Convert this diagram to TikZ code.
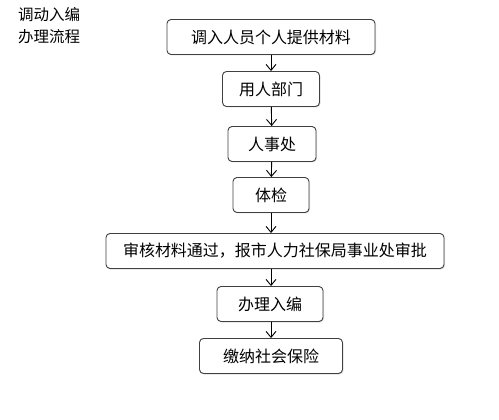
\documentclass[tikz,border=0pt]{standalone}
\usepackage{fontspec}
\setmainfont{Noto Sans CJK SC}
\usetikzlibrary{arrows.meta, shadows}

\begin{document}
\begin{tikzpicture}[
        x=1pt, y=-1pt,
        box/.style={draw=black!75, line width=0.9pt, rounded corners=4pt, align=center,
                    font=\fontsize{16}{18}\selectfont, fill=white,
                    drop shadow={shadow xshift=1pt, shadow yshift=-1pt, opacity=0.25},
                    minimum height=35pt, inner sep=0pt},
        arr/.style={-{Straight Barb[length=6pt, width=10pt]}, line width=0.9pt}
    ]
        \useasboundingbox (0,0) rectangle (499,420);

        \node[anchor=north west, align=left, inner sep=0pt,
              font=\fontsize{15.5}{22}\selectfont] (title) at (18,7) {调动入编\\办理流程};

        \node[box, minimum width=208pt] (cailiao) at (271,37)  {调入人员个人提供材料};
        \node[box, minimum width=97pt]  (bumen)   at (271,89)  {用人部门};
        \node[box, minimum width=88pt]  (renshi)  at (272,144) {人事处};
        \node[box, minimum width=76pt]  (tijian)  at (271,195) {体检};
        \node[box, minimum width=338pt] (shenpi)  at (275,251) {审核材料通过，报市人力社保局事业处审批};
        \node[box, minimum width=106pt] (ruobian) at (270,304) {办理入编};
        \node[box, minimum width=143pt] (baoxian) at (271,356) {缴纳社会保险};

        \draw[arr] (cailiao.south) -- (cailiao.south |- bumen.north);
        \draw[arr] (bumen)   -- (renshi);
        \draw[arr] (renshi)  -- (tijian);
        \draw[arr] (tijian.south) -- (tijian.south |- shenpi.north);
        \draw[arr] (shenpi.south -| tijian.south) -- (tijian.south |- ruobian.north);
        \draw[arr] (ruobian.south -| tijian.south) -- (tijian.south |- baoxian.north);
    \end{tikzpicture}
\end{document}
